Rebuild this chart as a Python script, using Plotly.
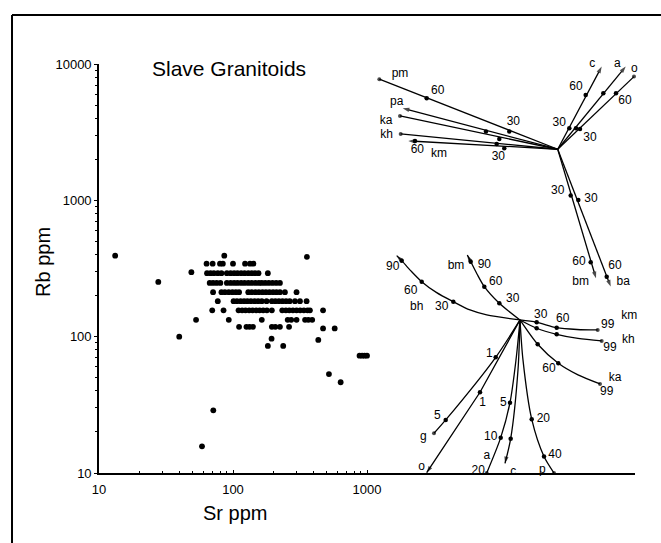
import plotly.graph_objects as go

FONT = "Liberation Sans, Arial, Helvetica, sans-serif"

# ---- Slave granitoid samples: rows of roughly equal Rb (ppm) with their Sr (ppm) ----
row_rb = [343, 292, 248, 212, 182, 156, 133, 118]
row_sr = [
    [63.5, 70.5, 80, 84, 100, 123, 134, 142],
    [64, 68, 72, 77, 82, 90, 96, 102, 108, 115, 122, 130, 138, 146, 155, 182],
    [67, 71, 75.5, 80.5, 90, 96, 102, 108, 115, 122, 130, 138, 147, 156, 164, 174, 185, 197, 210, 224],
    [71, 82, 87, 93, 99, 105, 111, 130, 138, 147, 156, 166, 176, 187, 199, 211, 224, 244, 298],
    [77, 101, 107, 114, 121, 128, 136, 145, 154, 164, 178, 195, 207, 220, 234, 249, 265, 290, 316, 354],
    [70, 85, 110, 117, 124, 132, 140, 149, 158, 168, 179, 195, 233, 248, 263, 280, 298, 317, 338, 360, 375, 470],
    [53, 93, 164, 256, 272, 298, 345, 365, 390],
    [111, 126, 133, 141, 195, 207, 224, 262],
]
# scattered samples outside the main cluster
extra_sr = [13.2, 27.7, 86.1, 356, 48.9, 39.7, 71.3, 58.7, 880, 920, 960, 1000,
            520, 636, 433, 470, 574, 182, 237, 194]
extra_rb = [393, 252, 393, 385, 297, 100, 28.8, 15.7, 72.6, 72.6, 72.6, 72.6,
            53.2, 46.3, 94.6, 115, 115, 85.5, 85.5, 96.6]

# ---- Rayleigh fractionation vectors (Sr, Rb paths from a common parent) ----
upper_parent = (26500, 2370)
lower_parent = (13860, 132.6)

# name: (Sr path, Rb path, end marker)
upper_vectors = {
    "pm": ([1236], [7736], "circle"),
    "pa": ([1846], [4740], "arrow"),
    "ka": ([1763], [4160], "circle"),
    "kh": ([1784], [3070], "circle"),
    "km": ([2033], [2728], "arrow"),
    "c":  ([56430], [9572], "arrow"),
    "a":  ([85220], [9572], "arrow"),
    "o":  ([98280], [8083], "circle"),
    "bm": ([51170], [268], "arrow"),
    "ba": ([65870], [233], "arrow"),
}
upper_tick_sr = [2789, 11530, 7727, 9713, 9290, 2281, 10580, 42870, 32340,
                 58000, 36280, 72150, 38870, 33120, 46700, 37750, 61500]
upper_tick_rb = [5611, 3192, 3192, 2821, 2594, 2728, 2411, 5934, 3381,
                 6107, 3381, 6107, 3341, 1083, 351, 1007, 275.5]
upper_text = ["pm", "60", "30", "pa", "ka", "kh", "60", "km", "30", "c", "60", "30",
              "a", "o", "60", "30", "30", "60", "bm", "30", "60", "ba"]
upper_text_sr = [1763, 3370, 12360, 1666, 1386, 1403, 2374, 3446, 9548, 48000, 36280, 27230,
                 73780, 99000, 84200, 46150, 26500, 38200, 39340, 46940, 70910, 81780]
upper_text_rb = [8460, 6348, 3780, 5297, 3843, 3034, 2343, 2179, 2092, 9950, 6757, 3678,
                 9950, 9161, 5389, 2884, 1178, 355, 250.7, 1019, 331.8, 250.7]

lower_vectors = {
    "bh": ([7824, 5871, 4406, 3312, 2560, 2119, 1816, 1666],
           [144.3, 157, 180.6, 210.3, 253.3, 305, 361, 393], "arrow"),
    "bm": ([9713, 7508, 6620, 5942, 5604],
           [175.8, 232.7, 288.4, 355, 397.6], "arrow"),
    "km": ([18460, 26040, 36920, 52680], [127.5, 116.4, 112.9, 112], "circle"),
    "kh": ([18460, 26040, 37550, 56430], [115.3, 104.1, 97, 93], "circle"),
    "ka": ([18780, 26770, 37550, 54810], [87.9, 63.8, 52.4, 44.98], "circle"),
    "g":  ([9129, 3866, 3162], [70.6, 24.5, 19.56], "circle"),
    "o":  ([6970, 2789], [39.1, 10.05], "arrow"),
    "a":  ([12940, 11670, 9950, 7824], [67.5, 32.8, 18.16, 10.0], "circle"),
    "c":  ([13390, 11810, 10710], [56.9, 17.85, 11.78], "arrow"),
    "p":  ([14590, 16950, 20940, 24860], [67.5, 24.8, 13.2, 10.0], "circle"),
}
lower_tick_sr = [4406, 2560, 1816, 9713, 7508, 5942, 18460, 26040, 18460, 26040,
                 18780, 26770, 9129, 3866, 6970, 11670, 9950, 11810, 16950, 20940]
lower_tick_rb = [180.6, 253.3, 361, 175.8, 232.7, 355, 127.5, 116.4, 115.3, 104.1,
                 87.9, 63.8, 70.6, 24.5, 39.1, 32.8, 18.16, 17.85, 24.8, 13.2]
lower_text = ["90", "60", "bh", "30", "bm", "90", "60", "30", "30", "60", "99", "km",
              "99", "kh", "60", "ka", "99", "1", "5", "g", "1", "o", "5", "10", "a", "20",
              "c", "20", "40", "p"]
lower_text_sr = [1555, 2119, 2349, 3610, 4615, 7508, 9129, 12230, 19780, 28870, 62570, 90700,
                 65070, 89130, 22810, 70910, 61500, 8178, 3347, 2631, 7302, 2560, 10400, 8376,
                 7824, 6770, 12360, 20690, 25290, 20330]
lower_text_rb = [326, 217.5, 166, 166, 330, 335.7, 250.7, 188, 144.3, 134.9, 121.8, 141.9,
                 82.2, 94.6, 57.7, 49.5, 39.5, 74.7, 26.2, 18.3, 32.8, 11.1, 32.8, 18.5,
                 13.3, 10.3, 10.1, 24.8, 13.6, 10.6]

fig = go.Figure()

# sample points
sample_sr = [s for srs in row_sr for s in srs] + extra_sr
sample_rb = [rb for rb, srs in zip(row_rb, row_sr) for _ in srs] + extra_rb
fig.add_trace(go.Scatter(x=sample_sr, y=sample_rb, mode="markers",
                         marker=dict(color="black", size=5.8), cliponaxis=False))


def add_vector(parent, sr_path, rb_path, end_symbol, smooth):
    xs = [parent[0]] + list(sr_path)
    ys = [parent[1]] + list(rb_path)
    n = len(xs)
    sizes = [0] * (n - 1) + [7 if end_symbol == "arrow" else 4]
    symbols = ["circle"] * (n - 1) + [end_symbol]
    fig.add_trace(go.Scatter(
        x=xs, y=ys, mode="lines+markers",
        line=dict(color="black", width=1.3, shape="spline" if smooth else "linear",
                  smoothing=0.8),
        marker=dict(color="black", size=sizes, symbol=symbols, angleref="previous",
                    line=dict(width=0)),
        cliponaxis=False))


for sr_path, rb_path, sym in upper_vectors.values():
    add_vector(upper_parent, sr_path, rb_path, sym, False)
for sr_path, rb_path, sym in lower_vectors.values():
    add_vector(lower_parent, sr_path, rb_path, sym, len(sr_path) > 2)

# fractionation increments (%)
fig.add_trace(go.Scatter(x=upper_tick_sr + lower_tick_sr, y=upper_tick_rb + lower_tick_rb,
                         mode="markers", marker=dict(color="black", size=4.5),
                         cliponaxis=False))
fig.add_trace(go.Scatter(x=upper_text_sr + lower_text_sr, y=upper_text_rb + lower_text_rb,
                         text=upper_text + lower_text, mode="text",
                         textfont=dict(family=FONT, size=12, color="black"),
                         textposition="middle center", cliponaxis=False))

fig.update_layout(
    width=661, height=543,
    margin=dict(l=99, r=26, t=64, b=70),
    paper_bgcolor="white", plot_bgcolor="white",
    showlegend=False,
    font=dict(family=FONT, color="black"),
    xaxis=dict(type="log", range=[1, 5], tickvals=[10, 100, 1000],
               ticktext=["10", "100", "1000"], showgrid=False, zeroline=False,
               showline=True, linecolor="black", linewidth=1.6,
               ticks="inside", ticklen=3, tickcolor="black", ticklabelstandoff=4,
               tickfont=dict(family=FONT, size=13, color="black"),
               minor=dict(tickvals=[20, 30, 40, 50, 60, 70, 80, 90,
                                    200, 300, 400, 500, 600, 700, 800, 900],
                          ticks="inside", ticklen=2, tickcolor="black", showgrid=False)),
    yaxis=dict(type="log", range=[1, 4], tickvals=[10, 100, 1000, 10000],
               ticktext=["10", "100", "1000", "10000"], showgrid=False, zeroline=False,
               showline=True, linecolor="black", linewidth=1.6,
               ticks="outside", ticklen=3, tickcolor="black",
               tickfont=dict(family=FONT, size=13, color="black"),
               minor=dict(tickvals=[20, 30, 40, 50, 60, 70, 80, 90,
                                    200, 300, 400, 500, 600, 700, 800, 900,
                                    2000, 3000, 4000, 5000, 6000, 7000, 8000, 9000],
                          ticks="outside", ticklen=2, tickcolor="black", showgrid=False)),
    annotations=[
        dict(text="Slave Granitoids", xref="paper", yref="paper", x=0.2425, y=0.99,
             xanchor="center", yanchor="middle",
             showarrow=False, font=dict(family=FONT, size=21, color="black")),
        dict(text="Sr ppm", xref="paper", yref="paper", x=0.2537, y=-0.098,
             xanchor="center", yanchor="middle",
             showarrow=False, font=dict(family=FONT, size=20, color="black")),
        dict(text="Rb ppm", xref="paper", yref="paper", x=-0.1045, y=0.516,
             xanchor="center", yanchor="middle",
             textangle=-90, showarrow=False, font=dict(family=FONT, size=20, color="black")),
    ],
    shapes=[
        dict(type="line", xref="paper", yref="paper", x0=-0.1623, x1=1.05, y0=1.1198, y1=1.1198,
             line=dict(color="black", width=2)),
        dict(type="line", xref="paper", yref="paper", x0=-0.1623, x1=-0.1623, y0=1.1198, y1=-0.18,
             line=dict(color="black", width=2)),
    ],
)

fig.write_html("out.html")
